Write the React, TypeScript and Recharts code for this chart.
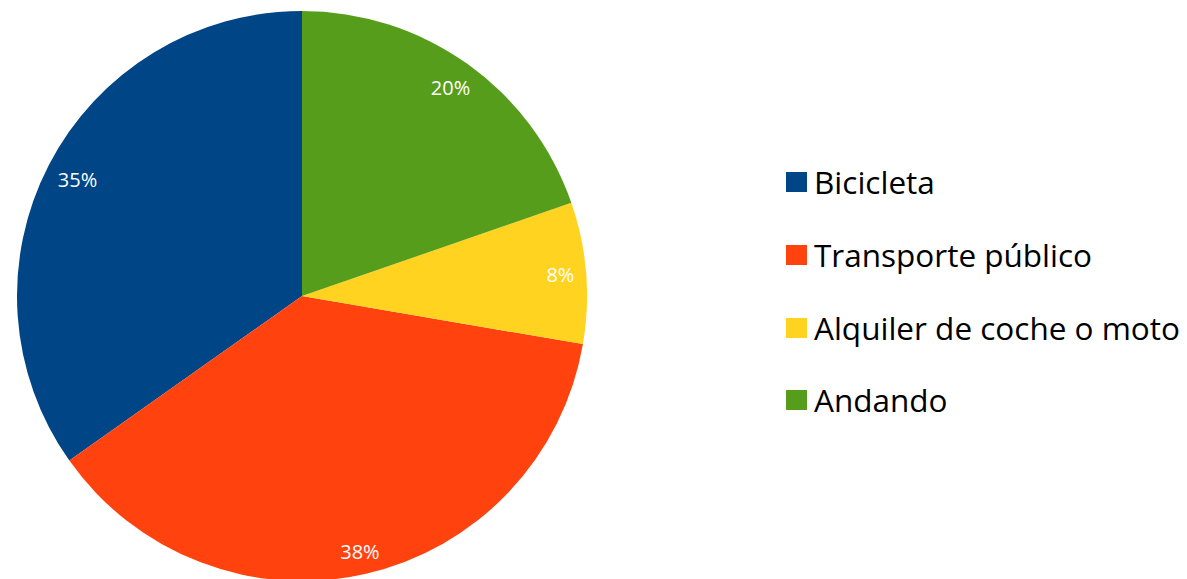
import React from 'react';
import { PieChart, Pie, Cell, Legend } from 'recharts';

const categories = ['Bicicleta', 'Transporte público', 'Alquiler de coche o moto', 'Andando'];
const values = [34.8, 37.5, 8.0, 19.7];
const colors = ['#004586', '#ff420e', '#ffd320', '#579d1c'];

const data = categories.map((name, i) => ({ name, value: values[i] }));

const RADIAN = Math.PI / 180;
const LABEL_FONT = 20;

const renderLabel = (props: any) => {
  const { cx, cy, midAngle, outerRadius, percent } = props;
  const text = `${Math.round(percent * 100)}%`;
  const digits = text.length - 1;
  const hw = (digits * 0.57 * LABEL_FONT + 0.84 * LABEL_FONT) / 2;
  const hh = 8;
  const c = Math.cos(-midAngle * RADIAN);
  const s = Math.sin(-midAngle * RADIAN);
  const r = outerRadius - 11 - (hw * Math.abs(c) + hh * Math.abs(s));
  const x = cx + r * c;
  const y = cy + r * s;
  return (
    <text x={x} y={y} fill="#ffffff" textAnchor="middle" dominantBaseline="central"
      fontSize={LABEL_FONT} fontFamily="'Open Sans', sans-serif">
      {text}
    </text>
  );
};

const renderLegend = () => (
  <div style={{ fontFamily: "'Open Sans', sans-serif" }}>
    {data.map((d, i) => (
      <div key={d.name} style={{ display: 'flex', alignItems: 'center', height: 72.7 }}>
        <div style={{ width: 21, height: 20, background: colors[i], marginRight: 7, flexShrink: 0 }} />
        <span style={{ fontSize: 31.5, color: '#000', whiteSpace: 'nowrap', lineHeight: '34px' }}>{d.name}</span>
      </div>
    ))}
  </div>
);

export default function App() {
  return (
    <PieChart width={1171} height={571} margin={{ top: 0, right: 0, bottom: 0, left: 0 }} style={{ background: '#fff' }}>
      <Pie
        data={data}
        dataKey="value"
        nameKey="name"
        cx={294}
        cy={288}
        outerRadius={285}
        startAngle={90}
        endAngle={450}
        stroke="none"
        label={renderLabel}
        labelLine={false}
        isAnimationActive={false}
      >
        {data.map((d, i) => (
          <Cell key={d.name} fill={colors[i]} />
        ))}
      </Pie>
      <Legend
        content={renderLegend}
        wrapperStyle={{ position: 'absolute', left: 778, top: 138, width: 420 }}
      />
    </PieChart>
  );
}
